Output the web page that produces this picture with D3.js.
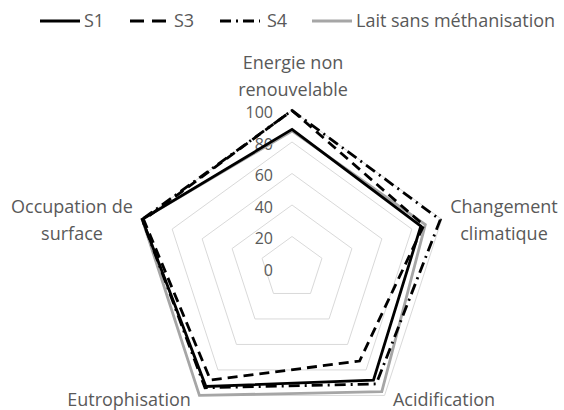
<!DOCTYPE html>
<html>
<head>
<meta charset="utf-8">
<script src="https://cdn.jsdelivr.net/npm/d3@7"></script>
<style>
  body { margin: 0; background: #fff; }
  text { font-family: "Open Sans", "Liberation Sans", sans-serif; fill: #595959; }
</style>
</head>
<body>
<svg id="radar" width="564" height="410"></svg>
<script>
const axes = ['Energie non renouvelable', 'Changement climatique', 'Acidification', 'Eutrophisation', 'Occupation de surface'];
const ticks = [0, 20, 40, 60, 80, 100];
const seriesNames = ['S1', 'S3', 'S4', 'Lait sans méthanisation'];
const s1 = [88, 86, 88, 93, 100];
const s3 = [100, 88, 73, 88, 99];
const s4 = [100, 99, 91, 94, 100];
const lait = [87, 89, 97, 100, 100];

const styles = {
  'S1': {stroke: '#000', width: 2.8, dash: null},
  'S3': {stroke: '#000', width: 2.8, dash: '10,6'},
  'S4': {stroke: '#000', width: 2.8, dash: '11,5,2,5'},
  'Lait sans méthanisation': {stroke: '#a6a6a6', width: 2.8, dash: null}
};

const cx = 292, cy = 268;
const svg = d3.select('#radar');

const rScale = d3.scaleLinear().domain([0, 100]).range([0, 157.5]);
const angle = d3.scalePoint().domain(axes).range([0, 2 * Math.PI * 4 / 5]);

const chart = svg.append('g').attr('transform', `translate(${cx}, ${cy})`);

// grid rings
const ring = d3.lineRadial()
  .angle(d => angle(d.axis))
  .radius(d => rScale(d.v))
  .curve(d3.curveLinearClosed);

chart.selectAll('.grid')
  .data(ticks.filter(t => t > 0))
  .enter()
  .append('path')
  .attr('class', 'grid')
  .attr('d', t => ring(axes.map(a => ({axis: a, v: t}))))
  .attr('fill', 'none')
  .attr('stroke', '#d9d9d9')
  .attr('stroke-width', 1);

// tick labels
chart.selectAll('.tick')
  .data(ticks)
  .enter()
  .append('text')
  .attr('x', -19)
  .attr('y', t => -rScale(t) + 2)
  .attr('dy', '0.35em')
  .attr('text-anchor', 'end')
  .style('font-size', '16px')
  .text(t => t);

// series
const table = [
  {name: 'Lait sans méthanisation', values: lait},
  {name: 'S1', values: s1},
  {name: 'S3', values: s3},
  {name: 'S4', values: s4}
];

chart.selectAll('.series')
  .data(table)
  .enter()
  .append('path')
  .attr('class', 'series')
  .attr('d', s => ring(axes.map((a, i) => ({axis: a, v: s.values[i]}))))
  .attr('fill', 'none')
  .attr('stroke', s => styles[s.name].stroke)
  .attr('stroke-width', s => styles[s.name].width)
  .attr('stroke-dasharray', s => styles[s.name].dash)
  .attr('stroke-linejoin', 'miter');

// axis labels
const labelPos = [
  {lines: ['Energie non', 'renouvelable'], x: 293, y: 69},
  {lines: ['Changement', 'climatique'], x: 504, y: 213},
  {lines: ['Acidification'], x: 444, y: 406},
  {lines: ['Eutrophisation'], x: 129, y: 406},
  {lines: ['Occupation de', 'surface'], x: 72, y: 213}
];

labelPos.forEach(l => {
  const t = svg.append('text')
    .attr('x', l.x)
    .attr('y', l.y)
    .attr('text-anchor', 'middle')
    .style('font-size', '18px');
  l.lines.forEach((line, i) => {
    t.append('tspan')
      .attr('x', l.x)
      .attr('dy', i === 0 ? 0 : 27)
      .text(line);
  });
});

// legend
const legendX = [40, 130, 220, 312];
const legend = svg.selectAll('.legend')
  .data(seriesNames)
  .enter()
  .append('g')
  .attr('class', 'legend')
  .attr('transform', (d, i) => `translate(${legendX[i]}, 21)`);

legend.append('line')
  .attr('x1', 0)
  .attr('x2', 40)
  .attr('stroke', d => styles[d].stroke)
  .attr('stroke-width', d => styles[d].width)
  .attr('stroke-dasharray', d => d === 'S3' ? '14,8' : styles[d].dash);

legend.append('text')
  .attr('x', d => d === 'S4' ? 47 : 44)
  .attr('dy', '0.35em')
  .style('font-size', '18px')
  .text(d => d);
</script>
</body>
</html>
